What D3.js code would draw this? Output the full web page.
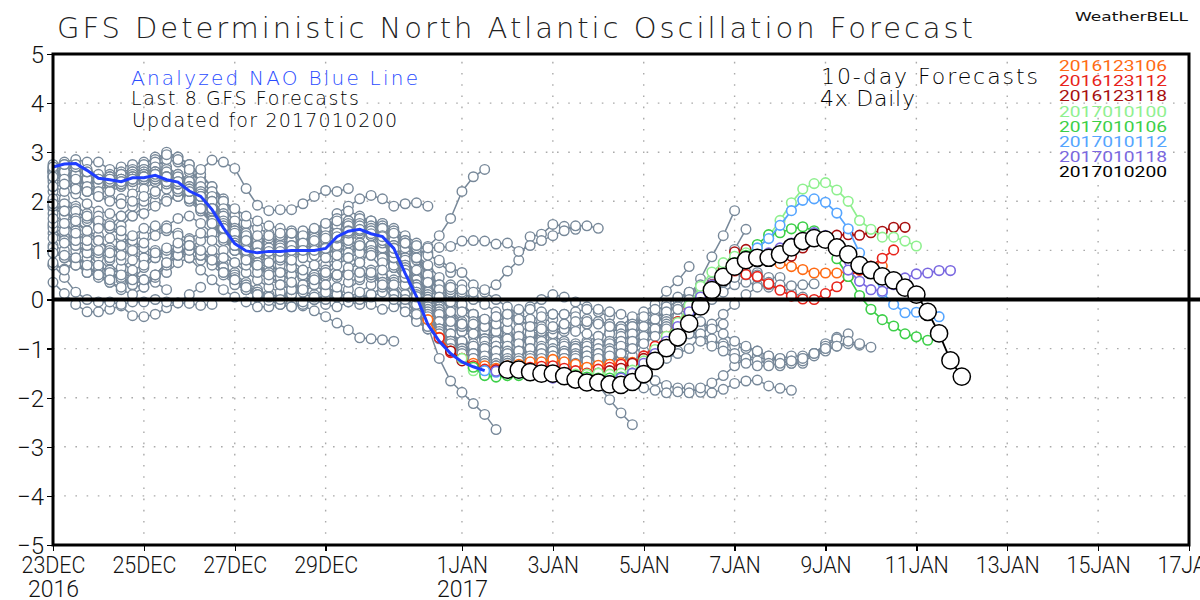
<!DOCTYPE html>
<html>
<head>
<meta charset="utf-8">
<script src="https://cdn.jsdelivr.net/npm/d3@7"></script>
<style>
  html, body { margin: 0; padding: 0; background: #fff; overflow: hidden; }
  svg { display: block; }
  text { font-family: "DejaVu Sans", Roboto, sans-serif; font-weight: 200; }
  .tick line { shape-rendering: crispEdges; }
</style>
</head>
<body>
<div id="chart"></div>
<script>
// steps are 6-hourly, step 0 = 23DEC 00Z
var yTicks = [-5, -4, -3, -2, -1, 0, 1, 2, 3, 4, 5];
var xTickSteps = [0, 8, 16, 24, 36, 44, 52, 60, 68, 76, 84, 92, 100];
var xTickLabels = ['23DEC', '25DEC', '27DEC', '29DEC', '1JAN', '3JAN', '5JAN', '7JAN', '9JAN', '11JAN', '13JAN', '15JAN', '17JAN'];
var xYearLabels = {'23DEC': '2016', '1JAN': '2017'};

var analysis = [2.70, 2.76, 2.77, 2.63, 2.47, 2.44, 2.40, 2.48, 2.48, 2.53, 2.44, 2.39, 2.21, 2.10, 1.83, 1.46, 1.14, 0.99, 0.95, 0.98, 0.98, 1.0, 1.0, 1.0, 1.04, 1.28, 1.39, 1.43, 1.34, 1.28, 1.04, 0.53, 0.06, -0.51, -0.85, -1.10, -1.27, -1.37, -1.45];

var forecastNames = ['2016123106', '2016123112', '2016123118', '2017010100', '2017010106', '2017010112', '2017010118', '2017010200'];
var forecastColors = ['#ff6a13', '#e8231a', '#a80f0f', '#8ff08f', '#3ccf48', '#55a5ff', '#7a68e0', '#000000'];
var forecastStarts = [33, 34, 35, 36, 37, 38, 39, 40];

var f2016123106 = [-0.41, -0.77, -1.05, -1.2, -1.3, -1.35, -1.4, -1.35, -1.32, -1.27, -1.27, -1.22, -1.27, -1.32, -1.38, -1.34, -1.32, -1.29, -1.28, -1.22, -1.0, -0.8, -0.55, -0.3, 0.0, 0.3, 0.6, 0.75, 0.88, 0.85, 0.80, 0.73, 0.67, 0.61, 0.54, 0.54, 0.54, 0.57, 0.6, 0.65, 0.68];
var f2016123112 = [-0.78, -1.08, -1.2, -1.35, -1.42, -1.43, -1.42, -1.4, -1.38, -1.36, -1.35, -1.4, -1.45, -1.5, -1.42, -1.38, -1.32, -1.3, -1.15, -0.95, -0.75, -0.45, -0.2, 0.05, 0.3, 0.5, 0.58, 0.51, 0.47, 0.32, 0.19, 0.07, 0.01, 0.0, 0.12, 0.26, 0.47, 0.6, 0.68, 0.84, 1.01];
var f2016123118 = [-1.05, -1.25, -1.4, -1.45, -1.45, -1.45, -1.45, -1.45, -1.45, -1.45, -1.5, -1.55, -1.55, -1.5, -1.45, -1.4, -1.3, -1.2, -1.05, -0.85, -0.6, -0.3, 0.0, 0.3, 0.65, 0.97, 1.02, 0.95, 0.88, 0.85, 0.88, 1.05, 1.2, 1.28, 1.31, 1.32, 1.31, 1.36, 1.39, 1.47, 1.47];
var f2017010100 = [-1.2, -1.45, -1.5, -1.55, -1.55, -1.52, -1.52, -1.5, -1.5, -1.5, -1.52, -1.52, -1.5, -1.52, -1.5, -1.44, -1.25, -1.02, -0.75, -0.47, -0.12, 0.27, 0.56, 0.75, 0.88, 0.95, 1.02, 1.29, 1.61, 1.97, 2.25, 2.36, 2.38, 2.23, 2.0, 1.61, 1.43, 1.27, 1.27, 1.19, 1.09];
var f2017010106 = [-1.38, -1.55, -1.58, -1.55, -1.55, -1.55, -1.55, -1.55, -1.55, -1.55, -1.58, -1.6, -1.6, -1.58, -1.5, -1.35, -1.15, -0.9, -0.6, -0.35, -0.05, 0.25, 0.5, 0.75, 0.9, 1.12, 1.32, 1.36, 1.44, 1.48, 1.4, 1.2, 0.83, 0.47, 0.08, -0.2, -0.41, -0.54, -0.7, -0.76, -0.83];
var f2017010112 = [-1.45, -1.48, -1.5, -1.5, -1.5, -1.5, -1.5, -1.55, -1.58, -1.62, -1.65, -1.65, -1.6, -1.55, -1.4, -1.2, -1.0, -0.75, -0.45, -0.15, 0.15, 0.45, 0.7, 0.85, 1.05, 1.24, 1.51, 1.81, 2.02, 2.05, 1.98, 1.76, 1.44, 0.95, 0.6, 0.14, -0.1, -0.27, -0.26, -0.27, -0.35];
var f2017010118 = [-1.46, -1.48, -1.5, -1.52, -1.55, -1.6, -1.6, -1.6, -1.65, -1.65, -1.65, -1.6, -1.5, -1.3, -1.1, -0.85, -0.55, -0.25, 0.05, 0.3, 0.5, 0.65, 0.8, 0.85, 0.95, 1.05, 1.15, 1.25, 1.36, 1.3, 1.1, 0.6, 0.37, 0.2, 0.17, 0.3, 0.44, 0.52, 0.54, 0.59, 0.59];
var f2017010200 = [-1.43, -1.43, -1.48, -1.51, -1.51, -1.56, -1.63, -1.69, -1.69, -1.73, -1.74, -1.68, -1.52, -1.25, -0.99, -0.77, -0.49, -0.14, 0.19, 0.46, 0.67, 0.80, 0.85, 0.85, 0.92, 1.06, 1.19, 1.25, 1.22, 1.06, 0.92, 0.70, 0.60, 0.47, 0.39, 0.24, 0.10, -0.25, -0.69, -1.24, -1.57];
var forecastValues = [f2016123106, f2016123112, f2016123118, f2017010100, f2017010106, f2017010112, f2017010118, f2017010200];

// older forecasts, init step per row (negative = started before the axis, only the visible part is kept)
var grayInit = [-38, -37, -36, -35, -34, -33, -32, -31, -30, -29, -28, -27, -26, -25, -24, -23, -22, -21, -20, -19, -18, -17, -16, -15, -14, -13, -12, -11, -10, -9, -8, -7, -6, -5, -4, -3, -2, -1, 0, 1, 2, 3, 4, 5, 6, 7, 8, 9, 10, 11, 12, 13, 14, 15, 16, 17, 18, 19, 20, 21, 22, 23, 24, 25, 26, 27, 28, 29, 30, 31, 32];
var grayValues = [
  [1.85, 1.75, 1.6],
  [2.45, 2.4, 2.3, 2.2],
  [2.6, 2.5, 2.35, 2.2, 2.1],
  [1.35, 1.25, 1.1, 1.0, 0.9, 0.8],
  [1.9, 1.7, 1.55, 1.4, 1.3, 1.25, 1.2],
  [0.7, 0.62, 0.7, 0.6, 0.55, 0.5, 0.45, 0.35],
  [2.2, 2.05, 1.9, 1.75, 1.5, 1.45, 1.3, 1.1, 0.95],
  [2.65, 2.55, 2.45, 2.4, 2.35, 2.3, 2.35, 2.3, 2.4, 2.4],
  [1.1, 1.0, 0.85, 0.75, 0.65, 0.6, 0.55, 0.45, 0.4, 0.35, 0.2],
  [2.3, 2.2, 2.15, 1.95, 1.8, 1.75, 1.7, 1.7, 1.9, 2.0, 2.05, 2.1],
  [2.75, 2.8, 2.85, 2.8, 2.8, 2.65, 2.7, 2.75, 2.8, 2.85, 2.7, 2.55, 2.45],
  [0.35, 0.12, -0.1, -0.25, -0.25, -0.2, -0.13, -0.33, -0.35, -0.3, -0.17, -0.07, 0.1, 0.25],
  [0.7, 0.45, 0.15, 0.0, -0.05, -0.05, -0.1, -0.05, -0.05, 0.0, -0.05, -0.07, -0.08, -0.12, -0.1],
  [1.5, 1.3, 1.25, 1.05, 0.95, 1.0, 1.0, 0.95, 0.8, 0.85, 0.9, 0.95, 1.05, 1.2, 1.35, 1.4],
  [0.95, 0.85, 0.75, 0.85, 0.65, 0.6, 0.65, 0.8, 0.85, 0.95, 0.95, 1.0, 0.85, 0.8, 0.75, 0.6, 0.55],
  [2.7, 2.65, 2.6, 2.55, 2.5, 2.55, 2.6, 2.65, 2.75, 2.9, 2.95, 2.9, 2.75, 2.5, 2.3, 2.05, 1.75, 1.5],
  [2.0, 1.9, 1.85, 1.6, 1.7, 1.55, 1.5, 1.7, 1.75, 1.9, 2.0, 2.1, 2.1, 2.0, 1.85, 1.65, 1.45, 1.25, 1.05],
  [1.45, 1.2, 1.0, 0.95, 0.85, 0.6, 0.4, 0.3, 0.4, 0.5, 0.55, 0.75, 0.85, 0.9, 0.85, 0.7, 0.5, 0.35, 0.2, 0.1],
  [2.5, 2.55, 2.45, 2.35, 2.4, 2.45, 2.4, 2.5, 2.55, 2.7, 2.85, 2.8, 2.6, 2.4, 2.05, 1.75, 1.5, 1.35, 1.25, 1.2, 1.15],
  [1.75, 1.55, 1.4, 1.25, 1.2, 1.05, 1.1, 1.2, 1.3, 1.4, 1.5, 1.65, 1.7, 1.55, 1.35, 1.2, 1.0, 0.85, 0.7, 0.6, 0.55, 0.5],
  [2.6, 2.5, 2.4, 2.5, 2.45, 2.5, 2.55, 2.6, 2.65, 2.85, 3.0, 2.9, 2.75, 2.55, 2.3, 2.0, 1.7, 1.55, 1.45, 1.35, 1.3, 1.25, 1.2],
  [2.05, 1.95, 1.8, 1.65, 1.6, 1.45, 1.4, 1.2, 1.05, 1.0, 0.9, 0.95, 1.0, 0.95, 0.85, 0.6, 0.45, 0.3, 0.15, 0.1, 0.05, 0.15, 0.2, 0.35],
  [2.4, 2.35, 2.3, 2.3, 2.15, 2.05, 2.05, 2.15, 2.25, 2.4, 2.5, 2.4, 2.3, 2.1, 1.85, 1.6, 1.35, 1.2, 1.15, 1.1, 1.1, 1.05, 1.05, 1.1, 1.1],
  [1.25, 1.15, 1.1, 0.95, 0.7, 0.55, 0.45, 0.3, 0.25, 0.45, 0.7, 0.9, 1.0, 0.95, 0.85, 0.65, 0.4, 0.2, 0.05, 0.0, 0.05, 0.1, 0.2, 0.35, 0.45, 0.5],
  [2.6, 2.65, 2.7, 2.6, 2.5, 2.5, 2.55, 2.6, 2.65, 2.6, 2.55, 2.5, 2.4, 2.65, 2.84, 2.8, 2.67, 2.26, 1.92, 1.81, 1.83, 1.83, 1.95, 2.1, 2.22, 2.2, 2.26],
  [1.9, 1.8, 1.65, 1.7, 1.45, 1.5, 1.7, 1.9, 2.0, 2.15, 2.3, 2.3, 2.25, 2.1, 1.85, 1.55, 1.3, 1.15, 1.1, 1.05, 1.0, 1.05, 1.1, 1.2, 1.35, 1.45, 1.55, 1.6],
  [0.75, 0.6, 0.8, 0.55, 0.5, 0.35, 0.2, 0.1, 0.25, 0.5, 0.75, 1.0, 1.24, 1.35, 1.2, 1.0, 0.75, 0.55, 0.4, 0.25, 0.15, 0.1, 0.15, 0.0, -0.1, -0.15, -0.05, 0.05, 0.1],
  [2.65, 2.5, 2.55, 2.45, 2.4, 2.5, 2.45, 2.55, 2.6, 2.8, 2.95, 2.85, 2.65, 2.4, 2.2, 2.0, 1.85, 1.7, 1.6, 1.5, 1.45, 1.4, 1.35, 1.3, 1.3, 1.35, 1.4, 1.45, 1.5, 1.55],
  [1.95, 1.8, 1.6, 1.4, 1.2, 1.0, 0.8, 0.55, 0.4, 0.5, 0.75, 0.9, 0.85, 0.6, 0.4, 0.2, 0.05, -0.05, -0.15, -0.15, -0.1, -0.05, -0.13, -0.23, -0.35, -0.48, -0.62, -0.78, -0.8, -0.82, -0.85],
  [2.5, 2.45, 2.5, 2.35, 2.25, 2.3, 2.45, 2.5, 2.55, 2.7, 2.6, 2.5, 2.3, 2.15, 1.9, 1.7, 1.5, 1.3, 1.2, 1.15, 1.1, 1.15, 1.2, 1.3, 1.4, 1.5, 1.6, 1.6, 1.55, 1.5, 1.4, 1.25],
  [1.05, 0.85, 0.7, 0.55, 0.45, 0.35, 0.25, 0.4, 0.65, 0.85, 1.0, 1.05, 1.0, 0.95, 1.0, 0.85, 0.75, 0.7, 0.75, 0.9, 0.85, 0.7, 0.55, 0.4, 0.25, 0.15, 0.05, 0.0, -0.1, -0.2, -0.15, -0.05, 0.1],
  [2.6, 2.55, 2.5, 2.4, 2.4, 2.35, 2.45, 2.5, 2.55, 2.5, 2.4, 2.4, 2.2, 2.0, 1.75, 1.55, 1.4, 1.3, 1.25, 1.2, 1.2, 1.25, 1.3, 1.4, 1.55, 1.75, 1.9, 2.05, 2.12, 2.05, 1.9, 1.95, 1.97, 1.9],
  [1.55, 1.4, 1.2, 1.1, 0.95, 0.85, 0.9, 1.0, 1.15, 1.3, 1.4, 1.35, 1.2, 1.0, 0.8, 0.55, 0.35, 0.2, 0.15, 0.05, -0.1, -0.15, -0.1, 0.0, 0.1, 0.05, -0.05, -0.1, 0.05, 0.15, 0.3, 0.4, 0.35, 0.2, 0.05],
  [2.55, 2.6, 2.55, 2.45, 2.35, 2.35, 2.4, 2.45, 2.5, 2.45, 2.35, 2.3, 2.1, 1.9, 1.6, 1.4, 1.25, 1.2, 1.15, 1.2, 1.25, 1.3, 1.35, 1.4, 1.5, 1.55, 1.6, 1.65, 1.6, 1.55, 1.45, 1.3, 1.15, 0.95, 0.75, 0.55],
  [2.5, 2.45, 2.45, 2.3, 2.2, 2.2, 2.3, 2.4, 2.45, 2.4, 2.3, 2.2, 2.0, 1.8, 1.55, 1.3, 1.1, 1.05, 1.0, 1.05, 1.1, 1.15, 1.2, 1.25, 1.4, 1.5, 1.55, 1.5, 1.45, 1.35, 1.25, 1.05, 0.8, 0.5, 0.3, 0.3, 0.3],
  [1.65, 1.55, 1.35, 1.2, 1.0, 0.95, 1.1, 1.3, 1.45, 1.5, 1.45, 1.3, 1.1, 0.9, 0.7, 0.5, 0.3, 0.2, 0.1, -0.02, -0.1, -0.15, -0.05, 0.1, 0.2, 0.15, 0.05, 0.0, 0.1, 0.25, 0.4, 0.55, 0.5, 0.4, 0.25, 0.15, 0.1, 0.05],
  [0.95, 0.9, 0.85, 0.7, 0.5, 0.4, 0.5, 0.6, 0.7, 0.95, 1.05, 1.15, 1.1, 1.0, 0.8, 0.55, 0.4, 0.25, 0.1, 0.05, 0.0, 0.1, 0.3, 0.5, 0.7, 0.85, 1.0, 1.05, 1.1, 1.05, 1.0, 0.95, 0.85, 1.08, 1.3, 1.65, 2.2, 2.5, 2.65],
  [2.3, 2.35, 2.25, 2.2, 2.1, 2.0, 1.95, 2.0, 2.1, 2.2, 2.25, 2.2, 2.05, 1.85, 1.6, 1.35, 1.1, 0.9, 0.75, 0.65, 0.6, 0.5, 0.45, 0.4, 0.45, 0.45, 0.5, 0.55, 0.5, 0.45, 0.35, 0.1, -0.2, -0.55, -1.2, -1.66, -1.89, -2.12, -2.34, -2.65],
  [2.7, 2.75, 2.7, 2.6, 2.5, 2.45, 2.4, 2.5, 2.55, 2.6, 2.5, 2.4, 2.2, 2.0, 1.75, 1.5, 1.25, 1.15, 1.1, 1.1, 1.05, 1.1, 1.15, 1.25, 1.45, 1.65, 1.8, 1.7, 1.6, 1.5, 1.4, 1.2, 0.9, 0.6, 0.3, 0.1, -0.1, -0.3, -0.4, -0.55, -0.6],
  [2.75, 2.7, 2.6, 2.5, 2.4, 2.35, 2.45, 2.5, 2.6, 2.55, 2.45, 2.3, 2.1, 1.85, 1.55, 1.3, 1.2, 1.15, 1.1, 1.1, 1.15, 1.2, 1.3, 1.3, 1.5, 1.6, 1.65, 1.6, 1.45, 1.3, 1.1, 0.85, 0.55, 0.25, 0.0, -0.2, -0.35, -0.5, -0.6, -0.7, -0.75],
  [2.75, 2.65, 2.55, 2.4, 2.4, 2.45, 2.55, 2.6, 2.65, 2.55, 2.4, 2.25, 2.0, 1.7, 1.45, 1.25, 1.2, 1.2, 1.25, 1.3, 1.35, 1.3, 1.2, 1.15, 1.25, 1.4, 1.45, 1.4, 1.3, 1.15, 0.9, 0.6, 0.3, 0.05, -0.15, -0.3, -0.45, -0.6, -0.7, -0.8, -0.9],
  [2.6, 2.45, 2.4, 2.35, 2.45, 2.5, 2.55, 2.6, 2.5, 2.4, 2.3, 2.1, 1.85, 1.6, 1.35, 1.2, 1.15, 1.15, 1.2, 1.15, 1.1, 1.05, 1.1, 1.2, 1.3, 1.35, 1.25, 1.15, 1.05, 0.9, 0.7, 0.45, 0.15, -0.1, -0.3, -0.55, -0.7, -0.8, -0.85, -0.8, -0.75],
  [2.45, 2.4, 2.35, 2.45, 2.45, 2.55, 2.5, 2.4, 2.3, 2.2, 2.0, 1.75, 1.45, 1.25, 1.05, 0.95, 1.0, 1.05, 1.0, 0.95, 0.95, 1.0, 1.05, 1.15, 1.1, 1.0, 0.9, 0.75, 0.55, 0.4, 0.3, 0.2, 0.15, 0.0, -0.1, -0.25, -0.35, -0.45, -0.5, -0.45, -0.4],
  [2.45, 2.35, 2.4, 2.5, 2.45, 2.5, 2.4, 2.3, 2.15, 2.0, 1.7, 1.4, 1.2, 1.0, 0.8, 0.7, 0.5, 0.45, 0.5, 0.45, 0.5, 0.6, 0.75, 1.0, 1.15, 1.25, 1.2, 1.05, 0.9, 0.8, 0.65, 0.55, 0.3, 0.15, 0.0, -0.15, -0.3, -0.4, -0.55, -0.6, -0.5],
  [2.4, 2.45, 2.45, 2.45, 2.35, 2.2, 2.05, 1.85, 1.6, 1.3, 1.0, 0.85, 0.7, 0.55, 0.4, 0.3, 0.25, 0.4, 0.45, 0.5, 0.65, 0.8, 0.9, 0.85, 0.75, 0.55, 0.4, 0.3, 0.3, 0.25, 0.2, 0.15, 0.2, 0.3, 0.58, 0.8, 1.28, 1.33, 1.53, 1.49, 1.43],
  [2.45, 2.5, 2.55, 2.4, 2.25, 2.05, 1.85, 1.55, 1.25, 1.0, 0.9, 0.95, 1.0, 1.1, 1.1, 1.05, 1.0, 1.0, 1.0, 1.05, 1.1, 1.05, 0.95, 0.85, 0.7, 0.55, 0.3, 0.05, -0.2, -0.45, -0.6, -0.7, -0.75, -0.8, -0.85, -0.8, -0.75, -0.7, -0.6, -0.55, -0.5],
  [2.5, 2.5, 2.4, 2.35, 2.25, 2.1, 1.85, 1.55, 1.3, 1.2, 1.2, 1.25, 1.3, 1.35, 1.4, 1.45, 1.55, 1.6, 1.55, 1.5, 1.4, 1.3, 1.2, 1.15, 1.1, 1.05, 1.06, 1.08, 1.19, 1.2, 1.19, 1.13, 1.15, 0.98, 1.1, 1.2, 1.3, 1.4, 1.5, 1.5, 1.45],
  [2.55, 2.5, 2.35, 2.2, 2.1, 1.85, 1.5, 1.25, 1.1, 1.05, 1.05, 1.0, 1.05, 1.1, 1.15, 1.2, 1.35, 1.45, 1.4, 1.35, 1.25, 1.1, 0.85, 0.5, 0.15, -0.15, -0.35, -0.5, -0.6, -0.55, -0.45, -0.35, -0.3, -0.15, 0.0, 0.1, 0.05, -0.05, -0.15, -0.25, -0.35],
  [2.5, 2.35, 2.2, 2.1, 1.85, 1.6, 1.4, 1.3, 1.3, 1.3, 1.35, 1.35, 1.3, 1.25, 1.2, 1.3, 1.45, 1.5, 1.5, 1.45, 1.35, 1.15, 0.85, 0.5, 0.2, -0.05, -0.25, -0.45, -0.6, -0.75, -0.8, -0.8, -0.75, -0.7, -0.75, -0.85, -0.9, -0.85, -0.75, -0.65, -0.6],
  [2.4, 2.25, 2.1, 1.8, 1.5, 1.3, 1.15, 1.05, 1.0, 0.95, 0.95, 1.0, 1.0, 1.0, 1.2, 1.35, 1.4, 1.35, 1.2, 1.0, 0.65, 0.3, -0.05, -0.4, -0.7, -0.9, -1.05, -1.15, -1.2, -1.3, -1.35, -1.4, -1.4, -1.35, -1.3, -1.3, -1.4, -1.75, -2.04, -2.31, -2.55],
  [2.2, 2.1, 1.85, 1.55, 1.35, 1.2, 1.1, 1.05, 1.05, 1.1, 1.15, 1.2, 1.25, 1.35, 1.5, 1.55, 1.45, 1.3, 1.1, 0.85, 0.5, 0.15, -0.2, -0.4, -0.5, -0.55, -0.5, -0.35, -0.3, -0.2, -0.2, -0.25, -0.3, -0.3, -0.25, -0.2, -0.2, -0.25, -0.3, -0.4, -0.45],
  [2.1, 1.85, 1.5, 1.2, 1.0, 0.9, 0.85, 0.9, 0.95, 1.0, 1.0, 1.05, 1.2, 1.35, 1.4, 1.35, 1.25, 1.05, 0.8, 0.45, 0.1, -0.2, -0.45, -0.6, -0.7, -0.75, -0.8, -0.75, -0.7, -0.75, -0.8, -0.85, -0.9, -0.95, -1.0, -0.95, -0.9, -0.85, -0.75, -0.7, -0.65],
  [1.85, 1.45, 1.15, 0.95, 0.75, 0.75, 0.8, 0.85, 0.9, 0.95, 1.0, 1.15, 1.3, 1.35, 1.3, 1.15, 0.95, 0.7, 0.4, 0.05, -0.2, -0.4, -0.55, -0.6, -0.65, -0.65, -0.6, -0.6, -0.6, -0.65, -0.7, -0.65, -0.55, -0.5, -0.45, -0.5, -0.55, -0.5, -0.45, -0.4, -0.35],
  [1.45, 1.1, 0.85, 0.65, 0.5, 0.45, 0.5, 0.6, 0.7, 0.9, 1.05, 1.15, 1.15, 1.1, 1.0, 0.85, 0.6, 0.3, 0.0, -0.25, -0.45, -0.6, -0.7, -0.8, -0.85, -0.9, -0.95, -1.0, -1.05, -1.05, -1.0, -0.95, -0.9, -0.85, -0.85, -0.9, -1.0, -1.05, -1.1, -1.1, -1.05],
  [1.1, 0.8, 0.55, 0.4, 0.3, 0.2, 0.3, 0.45, 0.6, 0.8, 0.95, 1.0, 1.0, 0.9, 0.7, 0.45, 0.15, -0.15, -0.4, -0.55, -0.65, -0.75, -0.8, -0.85, -0.8, -0.75, -0.7, -0.65, -0.6, -0.6, -0.65, -0.7, -0.75, -0.7, -0.55, -0.35, -0.25, -0.1, 0.17, 0.38, 0.67],
  [1.0, 0.7, 0.5, 0.3, 0.2, 0.15, 0.3, 0.5, 0.7, 0.85, 0.95, 0.95, 0.85, 0.65, 0.35, 0.05, -0.25, -0.45, -0.6, -0.65, -0.6, -0.55, -0.5, -0.45, -0.4, -0.4, -0.35, -0.3, -0.3, -0.35, -0.4, -0.45, -0.5, -0.55, -0.5, -0.45, -0.4, -0.4, -0.35, -0.25, -0.15],
  [0.95, 0.75, 0.55, 0.35, 0.2, 0.05, 0.0, 0.1, 0.2, 0.4, 0.6, 0.75, 0.7, 0.55, 0.3, 0.0, -0.3, -0.45, -0.55, -0.5, -0.4, -0.35, -0.3, -0.4, -0.55, -0.6, -0.55, -0.5, -0.45, -0.45, -0.5, -0.55, -0.6, -0.65, -0.6, -0.55, -0.5, -0.45, -0.45, -0.5, -0.55],
  [0.98, 0.85, 0.65, 0.5, 0.3, 0.15, 0.1, 0.05, 0.15, 0.3, 0.5, 0.65, 0.7, 0.6, 0.35, 0.05, -0.25, -0.5, -0.7, -0.85, -0.95, -1.0, -1.05, -1.1, -1.1, -1.05, -1.0, -1.0, -1.05, -1.1, -1.15, -1.2, -1.25, -1.2, -1.0, -0.85, -0.7, -0.65, -0.6, -0.55, -0.5],
  [0.98, 0.8, 0.6, 0.4, 0.3, 0.25, 0.35, 0.45, 0.45, 0.35, 0.15, -0.1, -0.35, -0.6, -0.8, -0.95, -1.05, -1.1, -1.15, -1.15, -1.2, -1.2, -1.25, -1.25, -1.2, -1.15, -1.1, -1.1, -1.15, -1.2, -1.2, -1.2, -1.15, -1.05, -0.75, -0.35, 0.05, 0.42, 0.87, 1.3, 1.81],
  [1.0, 0.85, 0.7, 0.55, 0.5, 0.5, 0.55, 0.5, 0.35, 0.1, -0.15, -0.4, -0.6, -0.75, -0.85, -0.95, -1.0, -1.05, -1.1, -1.1, -1.1, -1.05, -1.0, -1.0, -1.05, -1.1, -1.15, -1.2, -1.15, -1.05, -0.85, -0.6, -0.4, -0.2, 0.0, 0.15, 0.3, 0.35, 0.6, 1.02, 1.43],
  [1.0, 0.9, 0.85, 0.9, 0.85, 0.75, 0.55, 0.3, 0.0, -0.25, -0.45, -0.6, -0.7, -0.8, -0.85, -0.9, -0.95, -0.95, -0.95, -0.9, -0.85, -0.85, -0.9, -0.95, -1.0, -0.95, -0.9, -0.85, -0.7, -0.55, -0.4, -0.25, -0.1, 0.05, 0.15, 0.2, 0.3, 0.35, 0.45, 0.5, 0.55],
  [1.0, 1.05, 1.1, 1.2, 1.1, 0.9, 0.6, 0.3, 0.0, -0.3, -0.55, -0.75, -0.9, -1.0, -1.05, -1.1, -1.1, -1.1, -1.05, -1.0, -0.95, -1.0, -1.05, -1.1, -1.05, -1.0, -0.9, -0.75, -0.55, -0.35, -0.2, -0.15, -0.2, -0.3, -0.15, 0.0, 0.15, 0.3, 0.35, 0.3, 0.25],
  [1.04, 1.25, 1.35, 1.45, 1.3, 1.05, 0.7, 0.3, -0.1, -0.4, -0.65, -0.85, -1.0, -1.1, -1.15, -1.2, -1.2, -1.25, -1.25, -1.3, -1.3, -1.25, -1.2, -1.15, -1.1, -1.0, -0.85, -0.7, -0.55, -0.4, -0.25, -0.15, -0.05, 0.1, 0.25, 0.4, 0.5, 0.55, 0.5, 0.45, 0.45],
  [1.28, 1.4, 1.5, 1.4, 1.25, 1.0, 0.65, 0.25, -0.15, -0.45, -0.7, -0.85, -0.95, -1.0, -1.05, -1.05, -1.1, -1.1, -1.15, -1.1, -1.1, -1.15, -1.2, -1.25, -1.3, -1.35, -1.4, -1.5, -1.65, -1.75, -1.8, -1.8, -1.89, -1.9, -1.83, -1.71, -1.66, -1.64, -1.76, -1.81, -1.85],
  [1.39, 1.4, 1.3, 1.2, 0.95, 0.55, 0.15, -0.25, -0.55, -0.8, -0.95, -1.05, -1.1, -1.15, -1.2, -1.2, -1.25, -1.25, -1.3, -1.3, -1.35, -1.35, -1.3, -1.25, -1.2, -1.15, -1.2, -1.25, -1.2, -1.1, -1.0, -0.75, -0.5, -0.3, -0.1, 0.1, 0.25, 0.3, 0.25, 0.15, 0.05],
  [1.43, 1.3, 1.15, 0.85, 0.45, 0.1, -0.2, -0.45, -0.7, -0.85, -0.95, -1.0, -1.05, -1.1, -1.05, -1.0, -1.0, -1.05, -1.1, -1.15, -1.2, -1.2, -1.15, -1.1, -1.0, -0.85, -0.65, -0.4, -0.2, 0.0, 0.1, 0.25, 0.35, 0.45, 0.5, 0.45, 0.35, 0.3, 0.28, 0.3, 0.32],
  [1.34, 1.2, 0.85, 0.45, 0.05, -0.3, -0.6, -0.85, -1.0, -1.1, -1.2, -1.25, -1.3, -1.3, -1.3, -1.3, -1.3, -1.35, -1.4, -1.4, -1.35, -1.45, -1.55, -1.7, -1.8, -1.85, -1.9, -1.88, -1.9, -1.8, -1.7, -1.55, -1.35, -1.2, -1.15, -1.25, -1.2, -1.15, -1.15, -1.1, -1.0],
  [1.28, 0.95, 0.55, 0.1, -0.3, -0.6, -0.85, -1.0, -1.1, -1.15, -1.2, -1.2, -1.25, -1.2, -1.15, -1.15, -1.2, -1.25, -1.25, -1.2, -1.15, -1.05, -0.95, -0.8, -0.6, -0.45, -0.5, -0.6, -0.75, -0.85, -0.9, -0.95, -1.0, -1.05, -1.15, -1.25, -1.3, -1.3, -1.1, -0.9, -0.77],
  [1.04, 0.6, 0.15, -0.25, -0.6, -0.85, -1.05, -1.2, -1.25, -1.3, -1.25, -1.3, -1.3, -1.25, -1.2, -1.2, -1.25, -1.3, -1.3, -1.25, -1.1, -1.0, -0.85, -0.65, -0.5, -0.45, -0.5, -0.45, -0.6, -0.7, -0.85, -0.95, -1.05, -1.15, -1.2, -1.25, -1.2, -1.1, -0.95, -0.8, -0.7],
  [0.53, 0.1, -0.3, -0.65, -0.9, -1.1, -1.2, -1.3, -1.35, -1.3, -1.2, -1.15, -1.1, -1.15, -1.2, -1.2, -1.15, -1.1, -1.05, -0.95, -0.85, -0.75, -0.6, -0.55, -0.65, -0.7, -0.7, -0.8, -0.95, -1.1, -1.2, -1.25, -1.3, -1.35, -1.3, -1.25, -1.15, -1.05, -0.95, -0.9, -0.93],
  [0.06, -0.35, -0.7, -1.0, -1.2, -1.35, -1.4, -1.35, -1.3, -1.25, -1.2, -1.2, -1.25, -1.3, -1.3, -1.25, -1.2, -1.15, -1.1, -1.0, -0.9, -0.75, -0.6, -0.55, -0.7, -0.85, -0.95, -1.05, -1.2, -1.3, -1.35, -1.35, -1.3, -1.25, -1.2, -1.1, -1.0, -0.95, -0.85, -0.9, -0.97]
];

var titleText = 'GFS Deterministic North Atlantic Oscillation Forecast';

var svg = d3.select('#chart').append('svg')
  .attr('width', 1200)
  .attr('height', 600);

var x = d3.scaleLinear().domain([0, 100]).range([53, 1189]);
var y = d3.scaleLinear().domain([-5, 5]).range([545, 54]);

// grid
svg.append('g').selectAll('line').data(yTicks.slice(1, -1)).enter().append('line')
  .attr('x1', x(0)).attr('x2', x(100))
  .attr('y1', function(d) { return y(d) }).attr('y2', function(d) { return y(d) })
  .attr('stroke', '#aaa').attr('stroke-width', 1.4).attr('stroke-dasharray', '1.6 9.6');
svg.append('g').selectAll('line').data(xTickSteps.slice(1, -1)).enter().append('line')
  .attr('y1', y(-5)).attr('y2', y(5))
  .attr('x1', function(d) { return x(d) }).attr('x2', function(d) { return x(d) })
  .attr('stroke', '#aaa').attr('stroke-width', 1.4).attr('stroke-dasharray', '1.6 9.6');

var line = d3.line()
  .x(function(d) { return x(d.step) })
  .y(function(d) { return y(d.v) });

function series(values, init) {
  var first = Math.max(init, 0);
  return values.map(function(v, i) { return {step: first + i, v: v} });
}

function drawSeries(pts, color, r, lw, sw) {
  var g = svg.append('g');
  g.append('path').attr('d', line(pts))
    .attr('fill', 'none').attr('stroke', color).attr('stroke-width', lw);
  g.selectAll('circle').data(pts).enter().append('circle')
    .attr('cx', function(d) { return x(d.step) })
    .attr('cy', function(d) { return y(d.v) })
    .attr('r', r)
    .attr('fill', '#fff').attr('stroke', color).attr('stroke-width', sw);
}

grayValues.forEach(function(v, i) {
  drawSeries(series(v, grayInit[i]), '#778899', 4.8, 1.5, 1.4);
});

forecastValues.forEach(function(v, i) {
  if (i == 7) return;
  drawSeries(series(v, forecastStarts[i]), forecastColors[i], 4.8, 1.7, 1.6);
});

// analyzed NAO
svg.append('path').attr('d', line(series(analysis, 0)))
  .attr('fill', 'none').attr('stroke', '#1f3dff').attr('stroke-width', 3);

drawSeries(series(f2017010200, 40), '#000', 8.6, 1.8, 1.5);

// zero line and frame
svg.append('line')
  .attr('x1', x(0)).attr('x2', 1200).attr('y1', y(0)).attr('y2', y(0))
  .attr('stroke', '#000').attr('stroke-width', 4);
svg.append('rect')
  .attr('x', x(0)).attr('y', y(5))
  .attr('width', x(100) - x(0)).attr('height', y(-5) - y(5))
  .attr('fill', 'none').attr('stroke', '#000').attr('stroke-width', 3);

// axes
var yAxis = d3.axisLeft(y).tickValues(yTicks).tickSize(6).tickPadding(3)
  .tickFormat(function(d) { return d < 0 ? '\u2212' + (-d) : d });
var gy = svg.append('g').attr('transform', 'translate(' + x(0) + ',0)').call(yAxis);
gy.select('.domain').remove();
gy.selectAll('text')
  .attr('font-size', 24).attr('fill', '#111').style('font-family', 'Roboto').style('font-weight', 300)
  .attr('dy', '0.35em');
gy.selectAll('line').attr('stroke-width', 1.4);

var xAxis = d3.axisBottom(x).tickValues(xTickSteps).tickSize(6)
  .tickFormat(function(d, i) { return xTickLabels[i] });
var gx = svg.append('g').attr('transform', 'translate(0,' + y(-5) + ')').call(xAxis);
gx.select('.domain').remove();
gx.selectAll('line').attr('stroke-width', 1.4);
gx.selectAll('text')
  .attr('y', 28)
  .attr('dy', 0)
  .attr('font-size', 23).attr('fill', '#111').style('font-family', 'Roboto').style('font-weight', 300)
  .attr('lengthAdjust', 'spacingAndGlyphs')
  .attr('textLength', function(d, i) { return xTickLabels[i].length * 12.8 });
gx.selectAll('.tick').append('text')
  .attr('y', 52)
  .attr('fill', '#111').attr('text-anchor', 'middle')
  .attr('font-size', 23).style('font-family', 'Roboto').style('font-weight', 300)
  .text(function(d, i) { return xYearLabels[xTickLabels[i]] || '' });

// text
function label(txt, px, py, size, color, len, weight, adjust) {
  svg.append('text')
    .attr('x', px).attr('y', py)
    .attr('font-size', size).attr('fill', color)
    .attr('textLength', len).attr('lengthAdjust', adjust || 'spacing')
    .style('font-weight', weight || 200)
    .text(txt);
}
label(titleText, 57, 38, 29, '#222', 916);
label('WeatherBELL', 1075, 21, 12.5, '#111', 113, 400, 'spacingAndGlyphs');
label('Analyzed NAO Blue Line', 131, 85, 20, '#2a4cff', 287);
label('Last 8 GFS Forecasts', 131, 105, 19, '#000', 228);
label('Updated for 2017010200', 132, 127, 19, '#000', 265);
label('10-day Forecasts', 821, 84, 22, '#000', 217);
label('4x Daily', 820, 106, 22, '#000', 95);

svg.append('g').selectAll('text').data(forecastNames).enter().append('text')
  .attr('x', 1059)
  .attr('y', function(d, i) { return 71 + i * 15.2 })
  .attr('font-size', 15)
  .attr('fill', function(d, i) { return forecastColors[i] })
  .attr('textLength', 108).attr('lengthAdjust', 'spacingAndGlyphs')
  .style('font-family', 'Roboto').style('font-weight', 400)
  .text(function(d) { return d });
</script>
</body>
</html>
